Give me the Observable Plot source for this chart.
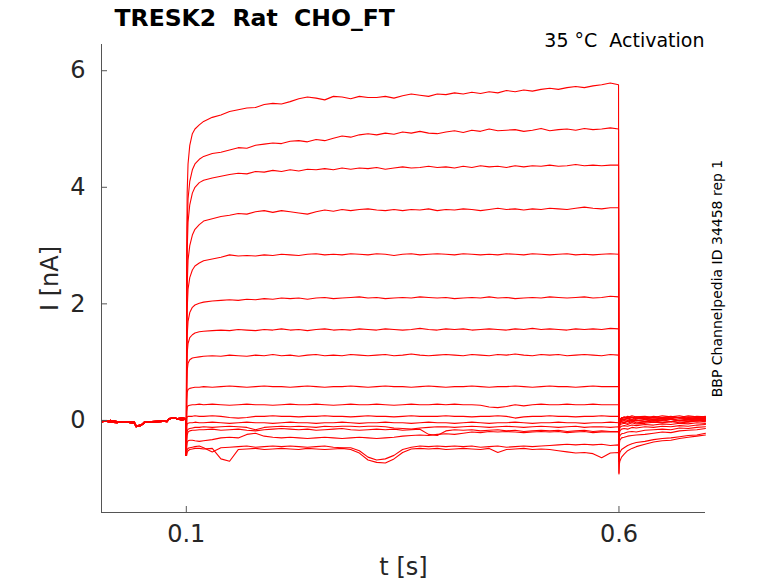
<!DOCTYPE html>
<html>
<head>
<meta charset="utf-8">
<script src="https://cdn.jsdelivr.net/npm/d3@7"></script>
<script src="https://cdn.jsdelivr.net/npm/@observablehq/plot@0.6"></script>
<style>
  body { margin: 0; background: white; }
  svg text { white-space: pre; }
</style>
</head>
<body>
<div id="chart"></div>
<script>
// tiempos (s) de cada tramo del protocolo
const tBase = [0.002, 0.006, 0.012, 0.02, 0.028, 0.035, 0.04, 0.042, 0.046, 0.05, 0.052, 0.06, 0.07, 0.078, 0.08, 0.085, 0.09, 0.095, 0.0995]
const tStep = [0.1, 0.1005, 0.101, 0.102, 0.104, 0.107, 0.11, 0.115,
  0.12, 0.13, 0.14, 0.15, 0.16, 0.17, 0.18, 0.19, 0.2, 0.21,
  0.22, 0.23, 0.24, 0.25, 0.26, 0.27, 0.28, 0.29, 0.3, 0.31,
  0.32, 0.33, 0.34, 0.35, 0.36, 0.37, 0.38, 0.39, 0.4, 0.41,
  0.42, 0.43, 0.44, 0.45, 0.46, 0.47, 0.48, 0.49, 0.5, 0.51,
  0.52, 0.53, 0.54, 0.55, 0.56, 0.57, 0.58, 0.59,
  0.5995]
const tTail = [0.6, 0.6005, 0.601, 0.603, 0.606, 0.61, 0.615, 0.62, 0.63, 0.64, 0.65, 0.66, 0.67, 0.68, 0.69, 0.7]

// linea de base (nA), dos variantes
const baseA = [-0.01, -0.02, 0.0, -0.02, -0.03, -0.02, -0.03, -0.09, -0.1, -0.05, -0.02, -0.02, -0.01, -0.02, 0.03, 0.04, 0.03, 0.04, 0.03]
const baseB = [-0.03, -0.01, -0.03, -0.04, -0.02, -0.04, -0.05, -0.11, -0.08, -0.07, -0.03, -0.03, -0.02, -0.01, 0.02, 0.05, 0.02, 0.01, 0.02]

// corriente durante el escalon (nA), un array por barrido
const step1 = [-0.6, 2.8, 3.9, 4.4, 4.72, 4.92, 5.0, 5.07,
  5.13, 5.2, 5.24, 5.3, 5.33, 5.36, 5.37, 5.42, 5.44, 5.43,
  5.47, 5.52, 5.55, 5.53, 5.5, 5.56, 5.55, 5.52, 5.56, 5.54,
  5.54, 5.56, 5.53, 5.57, 5.6, 5.58, 5.56, 5.6, 5.59, 5.62,
  5.6, 5.63, 5.61, 5.64, 5.62, 5.66, 5.64, 5.67, 5.65, 5.68,
  5.7, 5.68, 5.71, 5.73, 5.71, 5.74, 5.76, 5.79,
  5.76]
const step2 = [-0.6, 2.4, 3.3, 3.8, 4.1, 4.3, 4.4, 4.48,
  4.53, 4.58, 4.6, 4.64, 4.68, 4.67, 4.72, 4.74, 4.76, 4.75,
  4.79, 4.8, 4.78, 4.82, 4.8, 4.84, 4.88, 4.86, 4.9, 4.92,
  4.9, 4.93, 4.91, 4.95, 4.93, 4.96, 4.93, 4.92, 4.95, 4.97,
  4.94, 4.98, 4.96, 5.0, 4.97, 4.98, 4.99, 4.96, 4.98, 5.01,
  4.97, 4.99, 5.0, 4.98, 5.01, 4.99, 5.0, 5.02,
  5.0]
const step3 = [-0.6, 2.0, 2.9, 3.4, 3.7, 3.9, 4.0, 4.08,
  4.12, 4.16, 4.19, 4.22, 4.24, 4.23, 4.27, 4.26, 4.29, 4.27,
  4.3, 4.28, 4.31, 4.3, 4.32, 4.3, 4.33, 4.31, 4.33, 4.32,
  4.34, 4.31, 4.33, 4.35, 4.33, 4.34, 4.36, 4.34, 4.35, 4.33,
  4.36, 4.34, 4.37, 4.35, 4.36, 4.34, 4.37, 4.35, 4.37, 4.36,
  4.38, 4.36, 4.37, 4.39, 4.37, 4.38, 4.37, 4.38,
  4.38]
const step4 = [-0.6, 1.6, 2.3, 2.75, 3.0, 3.18, 3.28, 3.36,
  3.42, 3.46, 3.5, 3.52, 3.55, 3.54, 3.58, 3.6, 3.57, 3.6,
  3.58, 3.56, 3.54, 3.58, 3.61, 3.59, 3.62, 3.6, 3.62, 3.63,
  3.61, 3.6, 3.62, 3.6, 3.62, 3.61, 3.63, 3.6, 3.62, 3.61,
  3.63, 3.62, 3.6, 3.62, 3.64, 3.62, 3.63, 3.61, 3.63, 3.62,
  3.64, 3.63, 3.62, 3.64, 3.66, 3.64, 3.63, 3.65,
  3.65]
const step5 = [-0.6, 1.3, 1.9, 2.25, 2.45, 2.58, 2.65, 2.7,
  2.74, 2.77, 2.8, 2.84, 2.82, 2.83, 2.82, 2.84, 2.83, 2.85,
  2.84, 2.83, 2.85, 2.86, 2.84, 2.85, 2.84, 2.86, 2.85, 2.84,
  2.86, 2.85, 2.83, 2.85, 2.86, 2.84, 2.85, 2.86, 2.85, 2.84,
  2.86, 2.85, 2.84, 2.85, 2.84, 2.86, 2.85, 2.84, 2.86, 2.85,
  2.84, 2.85, 2.86, 2.84, 2.85, 2.84, 2.85, 2.86,
  2.85]
const step6 = [-0.6, 1.0, 1.45, 1.7, 1.85, 1.94, 1.98, 2.01,
  2.03, 2.05, 2.06, 2.07, 2.06, 2.08, 2.07, 2.09, 2.08, 2.1,
  2.09, 2.1, 2.08, 2.1, 2.11, 2.09, 2.1, 2.11, 2.12, 2.1,
  2.11, 2.09, 2.1, 2.11, 2.1, 2.12, 2.11, 2.1, 2.11, 2.09,
  2.1, 2.11, 2.1, 2.12, 2.1, 2.11, 2.09, 2.1, 2.11, 2.1,
  2.12, 2.11, 2.1, 2.11, 2.12, 2.1, 2.11, 2.13,
  2.12]
const step7 = [-0.6, 0.8, 1.15, 1.32, 1.42, 1.47, 1.5, 1.52,
  1.53, 1.54, 1.55, 1.54, 1.56, 1.55, 1.54, 1.56, 1.55, 1.57,
  1.55, 1.56, 1.54, 1.56, 1.57, 1.55, 1.56, 1.55, 1.57, 1.56,
  1.55, 1.57, 1.56, 1.55, 1.56, 1.58, 1.56, 1.55, 1.57, 1.56,
  1.57, 1.55, 1.56, 1.57, 1.56, 1.55, 1.57, 1.56, 1.58, 1.56,
  1.57, 1.56, 1.55, 1.57, 1.56, 1.57, 1.56, 1.58,
  1.57]
const step8 = [-0.6, 0.6, 0.85, 0.98, 1.04, 1.07, 1.08, 1.09,
  1.1, 1.11, 1.1, 1.12, 1.11, 1.1, 1.12, 1.11, 1.13, 1.11,
  1.12, 1.1, 1.12, 1.13, 1.11, 1.12, 1.11, 1.13, 1.12, 1.11,
  1.12, 1.13, 1.11, 1.12, 1.14, 1.12, 1.11, 1.12, 1.13, 1.12,
  1.11, 1.13, 1.12, 1.11, 1.13, 1.12, 1.14, 1.12, 1.11, 1.13,
  1.12, 1.13, 1.11, 1.12, 1.13, 1.12, 1.11, 1.13,
  1.12]
const step9 = [-0.6, 0.35, 0.48, 0.53, 0.55, 0.56, 0.57, 0.57,
  0.58, 0.57, 0.58, 0.59, 0.58, 0.57, 0.58, 0.59, 0.58, 0.58,
  0.57, 0.58, 0.59, 0.58, 0.57, 0.58, 0.58, 0.59, 0.58, 0.57,
  0.58, 0.59, 0.58, 0.58, 0.57, 0.58, 0.59, 0.58, 0.57, 0.58,
  0.58, 0.59, 0.58, 0.57, 0.58, 0.58, 0.59, 0.58, 0.57, 0.58,
  0.59, 0.58, 0.58, 0.57, 0.58, 0.59, 0.58, 0.58,
  0.58]
const step10 = [-0.6, 0.15, 0.22, 0.25, 0.26, 0.27, 0.27, 0.28,
  0.27, 0.28, 0.27, 0.26, 0.27, 0.28, 0.27, 0.27, 0.26, 0.27,
  0.28, 0.27, 0.27, 0.28, 0.27, 0.26, 0.27, 0.28, 0.27, 0.27,
  0.28, 0.27, 0.26, 0.27, 0.28, 0.27, 0.27, 0.28, 0.27, 0.28,
  0.27, 0.27, 0.26, 0.23, 0.22, 0.24, 0.27, 0.25, 0.27, 0.28,
  0.27, 0.27, 0.28, 0.27, 0.27, 0.28, 0.27, 0.27,
  0.27]
const step11 = [-0.6, 0.03, 0.06, 0.07, 0.07, 0.07, 0.08, 0.07,
  0.07, 0.08, 0.07, 0.05, 0.04, 0.05, 0.07, 0.07, 0.08, 0.07,
  0.07, 0.06, 0.07, 0.07, 0.08, 0.07, 0.07, 0.06, 0.07, 0.08,
  0.07, 0.07, 0.06, 0.07, 0.08, 0.07, 0.07, 0.07, 0.08, 0.07,
  0.07, 0.06, 0.07, 0.07, 0.08, 0.07, 0.04, 0.06, 0.07, 0.07,
  0.08, 0.07, 0.07, 0.06, 0.07, 0.07, 0.08, 0.07,
  0.07]
const step12 = [-0.6, -0.1, -0.06, -0.05, -0.04, -0.04, -0.03, -0.04,
  -0.04, -0.03, -0.04, -0.05, -0.04, -0.03, -0.04, -0.04, -0.05, -0.04,
  -0.03, -0.04, -0.04, -0.05, -0.04, -0.04, -0.03, -0.04, -0.05, -0.04,
  -0.04, -0.03, -0.04, -0.04, -0.05, -0.04, -0.03, -0.04, -0.04, -0.05,
  -0.04, -0.03, -0.04, -0.05, -0.04, -0.04, -0.03, -0.04, -0.05, -0.04,
  -0.04, -0.03, -0.04, -0.04, -0.05, -0.04, -0.04, -0.03,
  -0.04]
const step13 = [-0.6, -0.25, -0.18, -0.15, -0.14, -0.13, -0.12, -0.12,
  -0.11, -0.12, -0.11, -0.1, -0.11, -0.12, -0.16, -0.12, -0.11, -0.1,
  -0.11, -0.1, -0.11, -0.12, -0.1, -0.11, -0.1, -0.1, -0.11, -0.1,
  -0.1, -0.11, -0.13, -0.14, -0.15, -0.13, -0.12, -0.11, -0.11, -0.12,
  -0.11, -0.1, -0.11, -0.12, -0.11, -0.1, -0.11, -0.12, -0.11, -0.1,
  -0.11, -0.12, -0.11, -0.1, -0.12, -0.11, -0.11, -0.12,
  -0.11]
const step14 = [-0.6, -0.35, -0.25, -0.2, -0.18, -0.17, -0.17, -0.16,
  -0.16, -0.15, -0.17, -0.16, -0.15, -0.17, -0.18, -0.16, -0.15, -0.14,
  -0.15, -0.16, -0.15, -0.17, -0.16, -0.15, -0.14, -0.16, -0.17, -0.16,
  -0.15, -0.16, -0.15, -0.17, -0.16, -0.15, -0.24, -0.26, -0.18, -0.16,
  -0.17, -0.16, -0.18, -0.17, -0.16, -0.18, -0.17, -0.19, -0.18, -0.17,
  -0.18, -0.17, -0.19, -0.18, -0.17, -0.19, -0.18, -0.19,
  -0.19]
const step15 = [-0.6, -0.45, -0.38, -0.35, -0.34, -0.34, -0.35, -0.36,
  -0.35, -0.33, -0.3, -0.29, -0.3, -0.24, -0.22, -0.27, -0.29, -0.3,
  -0.29, -0.3, -0.31, -0.3, -0.29, -0.3, -0.31, -0.3, -0.29, -0.3,
  -0.31, -0.3, -0.29, -0.27, -0.26, -0.25, -0.26, -0.24, -0.23, -0.24,
  -0.22, -0.2, -0.21, -0.19, -0.2, -0.19, -0.2, -0.21, -0.2, -0.19,
  -0.2, -0.19, -0.21, -0.2, -0.19, -0.21, -0.2, -0.2,
  -0.2]
const step16 = [-0.6, -0.55, -0.5, -0.48, -0.47, -0.46, -0.45, -0.44,
  -0.47, -0.54, -0.47, -0.46, -0.45, -0.44, -0.46, -0.45, -0.44, -0.45,
  -0.44, -0.45, -0.46, -0.45, -0.44, -0.46, -0.47, -0.47, -0.52, -0.63,
  -0.68, -0.66, -0.6, -0.5, -0.46, -0.44, -0.45, -0.44, -0.45, -0.44,
  -0.45, -0.44, -0.46, -0.45, -0.44, -0.46, -0.45, -0.44, -0.45, -0.44,
  -0.43, -0.42, -0.41, -0.42, -0.41, -0.42, -0.41, -0.43,
  -0.42]
const step17 = [-0.6, -0.6, -0.55, -0.52, -0.5, -0.49, -0.48, -0.48,
  -0.49, -0.48, -0.66, -0.7, -0.5, -0.49, -0.48, -0.5, -0.49, -0.48,
  -0.49, -0.5, -0.48, -0.49, -0.5, -0.49, -0.48, -0.5, -0.56, -0.68,
  -0.72, -0.73, -0.66, -0.55, -0.49, -0.48, -0.49, -0.48, -0.5, -0.49,
  -0.48, -0.49, -0.5, -0.48, -0.55, -0.5, -0.49, -0.48, -0.5, -0.49,
  -0.5, -0.52, -0.54, -0.56, -0.55, -0.57, -0.64, -0.56,
  -0.55]

// colas tras el escalon (nA)
const tail1 = [-0.92, -0.3, -0.05, 0.04, 0.06, 0.05, 0.08, 0.06, 0.07, 0.05, 0.08, 0.06, 0.05, 0.08, 0.06, 0.05]
const tail2 = [-0.7, -0.2, 0.0, 0.05, 0.04, 0.07, 0.05, 0.06, 0.04, 0.07, 0.05, 0.06, 0.08, 0.05, 0.07, 0.06]
const tail3 = [-0.6, -0.15, 0.02, 0.04, 0.06, 0.04, 0.06, 0.03, 0.06, 0.04, 0.05, 0.07, 0.04, 0.06, 0.05, 0.07]
const tail4 = [-0.5, -0.1, 0.02, 0.03, 0.05, 0.03, 0.05, 0.04, 0.02, 0.05, 0.03, 0.06, 0.04, 0.03, 0.05, 0.04]
const tail5 = [-0.45, -0.1, 0.0, 0.03, 0.02, 0.04, 0.02, 0.05, 0.03, 0.02, 0.04, 0.03, 0.05, 0.02, 0.04, 0.03]
const tail6 = [-0.4, -0.08, 0.0, 0.02, 0.01, 0.03, 0.0, 0.02, 0.04, 0.01, 0.03, 0.02, 0.0, 0.03, 0.02, 0.04]
const tail7 = [-0.35, -0.08, -0.02, 0.0, 0.02, 0.0, 0.01, -0.01, 0.02, 0.0, 0.01, 0.03, 0.0, 0.02, 0.01, 0.02]
const tail8 = [-0.3, -0.06, -0.03, -0.01, 0.0, -0.02, 0.01, 0.0, -0.01, 0.01, 0.0, 0.02, -0.01, 0.01, 0.0, 0.01]
const tail9 = [-0.25, -0.05, -0.04, -0.02, -0.03, -0.01, -0.03, 0.0, -0.02, -0.01, 0.01, -0.02, 0.0, -0.01, 0.01, 0.0]
const tail10 = [-0.2, -0.06, -0.05, -0.04, -0.03, -0.05, -0.02, -0.04, -0.03, -0.01, -0.03, -0.02, 0.0, -0.02, -0.01, 0.01]
const tail11 = [-0.2, -0.08, -0.07, -0.06, -0.05, -0.07, -0.04, -0.06, -0.05, -0.03, -0.04, -0.02, -0.04, -0.03, -0.01, -0.02]
const tail12 = [-0.3, -0.15, -0.12, -0.1, -0.09, -0.1, -0.08, -0.09, -0.07, -0.08, -0.06, -0.07, -0.05, -0.06, -0.04, -0.05]
const tail13 = [-0.4, -0.22, -0.18, -0.15, -0.14, -0.15, -0.12, -0.13, -0.11, -0.12, -0.1, -0.11, -0.09, -0.1, -0.08, -0.07]
const tail14 = [-0.5, -0.3, -0.26, -0.23, -0.22, -0.2, -0.19, -0.2, -0.17, -0.16, -0.15, -0.16, -0.13, -0.14, -0.12, -0.11]
const tail15 = [-0.55, -0.4, -0.34, -0.3, -0.29, -0.27, -0.26, -0.25, -0.24, -0.22, -0.2, -0.21, -0.18, -0.17, -0.16, -0.14]
const tail16 = [-0.7, -0.6, -0.55, -0.5, -0.47, -0.43, -0.4, -0.38, -0.36, -0.33, -0.31, -0.3, -0.28, -0.26, -0.25, -0.22]
const tail17 = [-0.9, -0.75, -0.7, -0.63, -0.58, -0.52, -0.48, -0.45, -0.41, -0.37, -0.35, -0.34, -0.31, -0.29, -0.27, -0.25]

const steps = [step1, step2, step3, step4, step5, step6, step7, step8, step9, step10, step11, step12, step13, step14, step15, step16, step17]
const tails = [tail1, tail2, tail3, tail4, tail5, tail6, tail7, tail8, tail9, tail10, tail11, tail12, tail13, tail14, tail15, tail16, tail17]

const xTicks = [0.1, 0.6]
const yTicks = [0, 2, 4, 6]
const xDomain = [0.002, 0.7]
const yDomain = [-1.58, 6.45]

const titulo = "TRESK2  Rat  CHO_FT"
const subtitulo = "35 °C  Activation"
const fuente = "BBP Channelpedia ID 34458 rep 1"

// armamos la tabla larga: un registro por muestra
const rows = []
steps.forEach((st, k) => {
  const base = k % 2 ? baseB : baseA
  tBase.forEach((t, j) => rows.push({t, i: base[j], sweep: k}))
  tStep.forEach((t, j) => rows.push({t, i: st[j], sweep: k}))
  tTail.forEach((t, j) => rows.push({t, i: tails[k][j], sweep: k}))
})

const gris = "#555"
const texto = "#262626"

let chart = Plot.plot({
  width: 778,
  height: 583,
  marginLeft: 101,
  marginRight: 73,
  marginTop: 44,
  marginBottom: 71,
  style: {fontFamily: "DejaVu Sans", color: texto, background: "white", overflow: "visible"},
  x: {domain: xDomain},
  y: {domain: yDomain},
  marks: [
    Plot.line(rows, {x: "t", y: "i", z: "sweep", stroke: "#ff0000", strokeWidth: 1.1}),
    Plot.ruleX([xDomain[0]], {stroke: gris}),
    Plot.ruleY([yDomain[0]], {stroke: gris}),
    // marcas hacia adentro
    Plot.axisX({ticks: xTicks, tickSize: 6, dy: -6, tickFormat: () => "", label: null, stroke: gris}),
    Plot.axisY({ticks: yTicks, tickSize: 6, dx: 6, tickFormat: () => "", label: null, stroke: gris}),
    Plot.axisX({ticks: xTicks, tickSize: 0, tickPadding: 12, fontSize: 24, label: null, fill: texto, tickFormat: d => `${d}`}),
    Plot.axisY({ticks: yTicks, tickSize: 0, tickPadding: 16, fontSize: 24, label: null, fill: texto, tickFormat: d => `${d}`}),
    Plot.text(["t [s]"], {text: d => d, frameAnchor: "bottom", lineAnchor: "middle", dy: 55, fontSize: 24, fill: texto}),
    Plot.text(["I [nA]"], {text: d => d, frameAnchor: "left", textAnchor: "middle", lineAnchor: "middle", dx: -51, rotate: -90, fontSize: 24, fill: texto}),
    Plot.text([titulo], {text: d => d, frameAnchor: "top-left", textAnchor: "start", lineAnchor: "middle", dx: 13, dy: -26, fontSize: 23.5, fontWeight: "bold", fill: "black"}),
    Plot.text([subtitulo], {text: d => d, frameAnchor: "top-right", textAnchor: "end", lineAnchor: "middle", dx: -1, dy: -4, fontSize: 19, fill: "black"}),
    Plot.text([fuente], {text: d => d, frameAnchor: "right", textAnchor: "middle", lineAnchor: "middle", dx: 12, rotate: -90, fontSize: 14, fill: "black"})
  ]
})

d3.select('#chart').append(() => chart)
</script>
</body>
</html>
